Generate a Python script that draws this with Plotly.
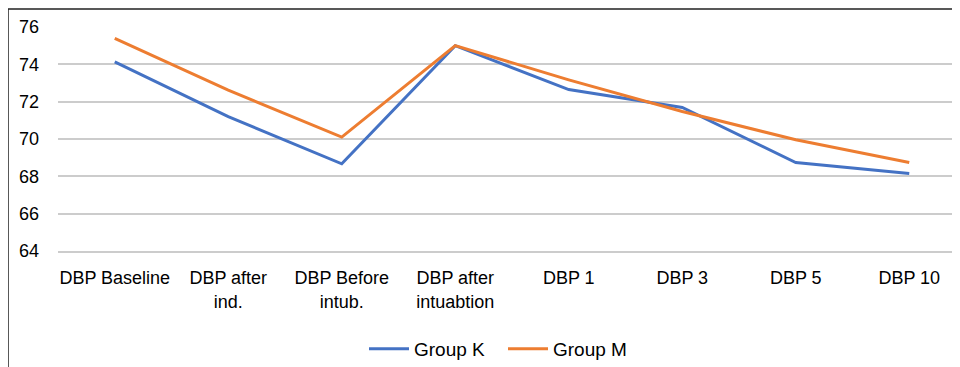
import plotly.graph_objects as go

categories = ["DBP Baseline", "DBP after<br>ind.", "DBP Before<br>intub.", "DBP after<br>intuabtion",
              "DBP 1", "DBP 3", "DBP 5", "DBP 10"]
group_k = [74.13, 71.2, 68.67, 75.0, 72.65, 71.69, 68.74, 68.15]
group_m = [75.39, 72.62, 70.1, 75.0, 73.17, 71.47, 69.96, 68.74]
y_ticks = [64, 66, 68, 70, 72, 74, 76]

# page body has an 8px margin, so the figure itself is 8px smaller each way
OFF = 8
W, H = 960 - OFF, 367 - OFF
L, R, T = 58 - OFF, 0, 27 - OFF
PB = 251 - OFF  # plot bottom in figure px
B = H - PB
pw, ph = W - L - R, PB - T

fig = go.Figure()
fig.add_trace(go.Scatter(x=categories, y=group_k, mode="lines", name="Group K",
                         line=dict(color="#4472C4", width=3)))
fig.add_trace(go.Scatter(x=categories, y=group_m, mode="lines", name="Group M",
                         line=dict(color="#ED7D31", width=3)))

fam = "Liberation Sans, Arial, sans-serif"
font = dict(family=fam, size=18, color="#000000")

fig.update_layout(
    width=W, height=H,
    margin=dict(l=L, r=R, t=T, b=B, pad=0, autoexpand=False),
    paper_bgcolor="white", plot_bgcolor="white",
    font=font,
    showlegend=True,
    legend=dict(orientation="h", x=(364 - 58) / pw, xanchor="left",
                y=(251 - 349) / ph, yanchor="middle",
                font=dict(family=fam, size=19, color="#000"),
                itemwidth=40, tracegroupgap=0,
                entrywidth=84, entrywidthmode="pixels"),
    xaxis=dict(type="category", range=[-0.5, pw / 113.5 - 0.5],
               showgrid=False, showline=True, linecolor="#cccccc", linewidth=1.5,
               zeroline=False, automargin=False,
               ticks="", tickfont=dict(size=18), ticklabelstandoff=10),
    yaxis=dict(range=[64, 76], tickvals=y_ticks, showgrid=True, gridcolor="#cccccc",
               gridwidth=1.5, zeroline=False, showline=False, ticks="", automargin=False,
               tickfont=dict(size=18), ticklabelstandoff=18),
)

# outer frame of the chart image
fig.add_shape(type="rect", xref="paper", yref="paper",
              x0=(8 - 58) / pw, x1=(960 + 10 - 58) / pw,
              y0=(251 - 380) / ph, y1=(251 - 9) / ph,
              line=dict(color="#222222", width=1.5), fillcolor="rgba(0,0,0,0)", layer="below")

fig.write_html("out.html")
